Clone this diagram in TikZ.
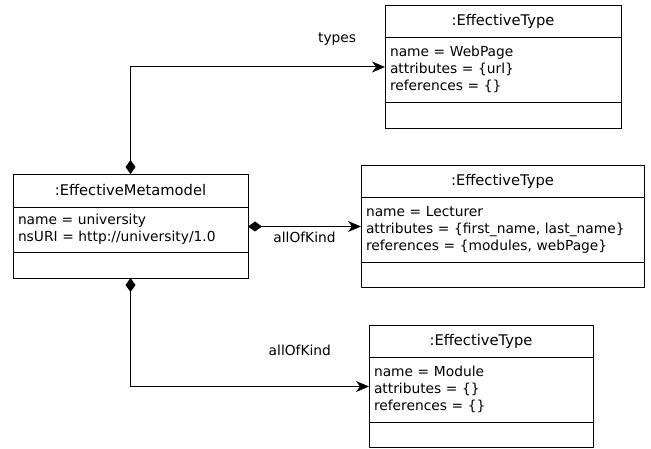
\documentclass[tikz,border=0pt]{standalone}
\usepackage{fontspec}
\setmainfont{DejaVu Sans}
\usetikzlibrary{positioning,arrows.meta}

\begin{document}
\begin{tikzpicture}[x=1pt, y=-1pt,
    font=\fontsize{13.8pt}{17pt}\selectfont,
    box/.style={draw, line width=0.9pt, outer sep=0pt, inner xsep=5pt, inner ysep=0pt, minimum width=#1},
    title/.style={box=#1, minimum height=32pt, font=\fontsize{14.7pt}{17pt}\selectfont},
    comp/.style={line width=1pt, {Diamond[length=14pt,width=10pt]}-{Stealth[length=13pt,width=11pt,inset=4pt]}}]
  \useasboundingbox (0,0) rectangle (651,449);

  % the metamodel object
  \node(mm) [title=235pt, minimum height=33pt, anchor=north west] at (13,174) {:EffectiveMetamodel};
  \node(mm-a) [box=235pt, text width=225pt, align=left, minimum height=45pt, below=0pt of mm] {name = university\\nsURI = http://university/1.0};
  \node(mm-o) [box=235pt, minimum height=26pt, below=0pt of mm-a] {};

  % WebPage
  \node(wp) [title=236pt, anchor=north west] at (385,5) {:EffectiveType};
  \node(wp-a) [box=236pt, text width=226pt, align=left, minimum height=65pt, below=0pt of wp] {name = WebPage\\attributes = \{url\}\\references = \{\}};
  \node(wp-o) [box=236pt, minimum height=26pt, below=0pt of wp-a] {};

  % Lecturer
  \node(lec) [title=283pt, anchor=north west] at (361,165) {:EffectiveType};
  \node(lec-a) [box=283pt, text width=273pt, align=left, minimum height=65pt, below=0pt of lec] {name = Lecturer\\attributes = \{first\_name, last\_name\}\\references = \{modules, webPage\}};
  \node(lec-o) [box=283pt, minimum height=25pt, below=0pt of lec-a] {};

  % Module
  \node(mod) [title=224pt, anchor=north west] at (369,325) {:EffectiveType};
  \node(mod-a) [box=224pt, text width=214pt, align=left, minimum height=65pt, below=0pt of mod] {name = Module\\attributes = \{\}\\references = \{\}};
  \node(mod-o) [box=224pt, minimum height=25pt, below=0pt of mod-a] {};

  \draw[comp](mm.north) |- node[pos=0.906, yshift=28pt] {types} ([yshift=2.5pt]wp-a.west);
  \draw[comp]([yshift=3pt]mm-a.east) to node[yshift=-11pt] {allOfKind} ([yshift=3pt]lec-a.west);
  \draw[comp](mm-o.south) |- node[pos=0.855, yshift=36pt] {allOfKind} ([yshift=3pt]mod-a.west);
\end{tikzpicture}
\end{document}
